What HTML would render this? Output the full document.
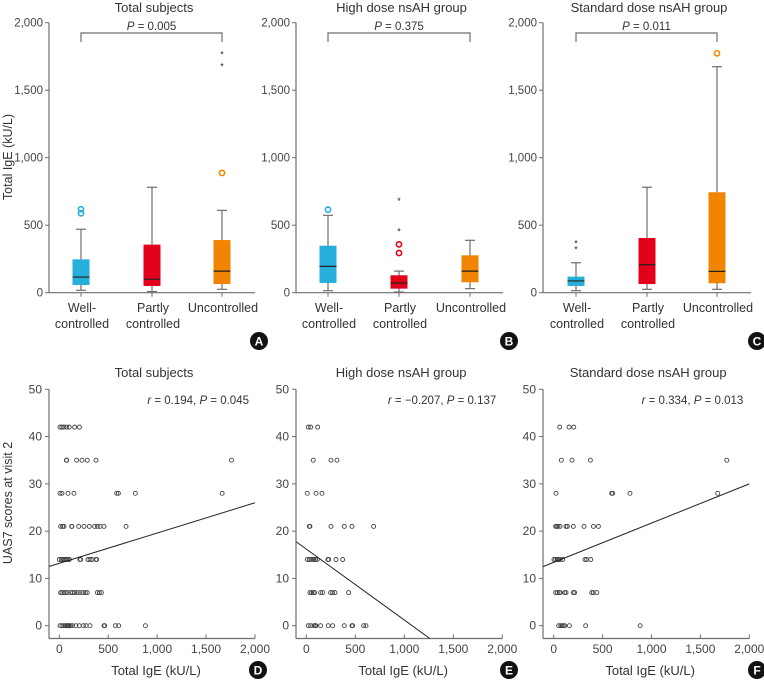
<!DOCTYPE html>
<html><head><meta charset="utf-8"><style>
html,body{margin:0;padding:0;background:#fff;}
svg{display:block;font-family:"Liberation Sans",sans-serif;}
</style></head><body>
<svg id="fig" width="764" height="681" viewBox="0 0 764 681" xmlns="http://www.w3.org/2000/svg"></svg>
<script>
// ---------- Box plot data ----------
const boxCategories = ["Well-controlled","Partly controlled","Uncontrolled"];
const boxColors = ["#27afdc","#e2001a","#f18400"];
const boxTitles = ["Total subjects","High dose nsAH group","Standard dose nsAH group"];
const boxPvalues = ["0.005","0.375","0.011"];
// each: [low whisker, q1, median, q3, high whisker]
const boxA = [[18,57,116,247,470],[8,50,99,356,781],[25,64,160,390,610]];
const boxB = [[15,72,195,348,573],[5,30,72,129,160],[30,77,160,277,388]];
const boxC = [[15,50,87,119,222],[25,64,207,405,781],[25,70,158,744,1674]];
const outCirclesA = [[618,588],[],[887]];
const outStarsA = [[],[],[1773,1684]];
const outCirclesB = [[615],[358,294],[]];
const outStarsB = [[],[687,462],[]];
const outCirclesC = [[],[],[1773]];
const outStarsC = [[373,326],[],[]];
const boxTicks = [0,500,1000,1500,2000];
const boxTickLabels = ["0","500","1,000","1,500","2,000"];

// ---------- Scatter data ----------
const scTitles = ["Total subjects","High dose nsAH group","Standard dose nsAH group"];
const scR = ["0.194","\u22120.207","0.334"];
const scP = ["0.045","0.137","0.013"];
const scIntercept = [13.2,16.2,13.4];
const scSlope = [0.0064,-0.0150,0.0083];
const scYTicks = [0,10,20,30,40,50];
const scXTicks = [0,500,1000,1500,2000];
const scXTickLabels = ["0","500","1,000","1,500","2,000"];
// points grouped by UAS7 level
const scLevels = [42,35,28,21,14,7,0];
const scD = [
 [7,27,48,75,102,157,205],
 [72,75,177,232,286,375,1760],
 [7,27,89,150,587,604,777,1664],
 [14,34,48,126,129,198,252,307,361,389,416,457,682],
 [0,20,34,48,61,75,89,102,211,218,293,314,334,375,382],
 [14,27,48,68,82,116,136,157,184,211,239,266,286,389,409,430],
 [7,27,48,61,75,82,89,95,102,116,136,170,204,246,273,314,457,464,573,607,880]
];
const scE = [
 [20,44,116],
 [71,252,313],
 [10,99,160],
 [31,37,252,388,466,687],
 [10,31,48,65,78,95,112,221,228,303,371],
 [37,54,71,85,146,167,248,269,292,432],
 [20,44,78,92,99,146,224,269,388,466,473,585,609]
];
const scF = [
 [61,157,205],
 [78,188,375,1770],
 [24,593,603,780,1677],
 [20,31,44,65,126,140,201,310,406,457],
 [3,20,37,51,65,92,320,337,378],
 [20,37,58,65,112,126,201,214,389,406,440],
 [51,72,85,99,112,160,327,884]
];

const NS="http://www.w3.org/2000/svg";
const svg=document.getElementById('fig');
function mk(tag,attrs,parent,text){
  const e=document.createElementNS(NS,tag);
  for(const k in attrs) e.setAttribute(k,attrs[k]);
  if(text!==undefined) e.textContent=text;
  (parent||svg).appendChild(e);
  return e;
}
const AX="#6e6e6e", TX="#333";

// ---------- Box panels ----------
const boxPanels=[
 {ax:49, cx:[81,152,222], right:255, data:boxA, oc:outCirclesA, os:outStarsA, badge:[259,341,"A"]},
 {ax:296, cx:[328,399,470], right:503, data:boxB, oc:outCirclesB, os:outStarsB, badge:[509,341,"B"]},
 {ax:543, cx:[576,647,717], right:751, data:boxC, oc:outCirclesC, os:outStarsC, badge:[757,341,"C"]}
];
const by0=292.7, by1=22.7;
function byS(v){return by0-(v/2000)*(by0-by1);}
boxPanels.forEach((p,pi)=>{
  const g=mk('g',{});
  
  
  const t=mk('text',{x:(p.ax+p.right)/2+2,y:12,'text-anchor':'middle','font-size':13,fill:TX},g,boxTitles[pi]);
  
  
  mk('line',{x1:p.ax,y1:by1,x2:p.ax,y2:by0,stroke:AX,'stroke-width':1.2},g);
  mk('line',{x1:p.ax,y1:by0,x2:p.right,y2:by0,stroke:AX,'stroke-width':1.2},g);
  boxTicks.forEach((v,i)=>{
    mk('line',{x1:p.ax-4,y1:byS(v),x2:p.ax,y2:byS(v),stroke:AX},g);
    const tl=mk('text',{x:p.ax-6,y:byS(v)+4,'text-anchor':'end','font-size':11.5,fill:'#444'},g,boxTickLabels[i]);
    
    
  });
  mk('path',{d:`M${p.cx[0]} 42 V33 H${p.cx[2]} V42`,fill:'none',stroke:AX,'stroke-width':1.2},g);
  const pt=mk('text',{x:(p.cx[0]+p.cx[2])/2,y:30,'text-anchor':'middle','font-size':11.5,fill:TX},g);
  mk('tspan',{'font-style':'italic'},pt,'P');
  mk('tspan',{},pt,' = '+boxPvalues[pi]);
  
  
  p.data.forEach((d,ci)=>{
    const x=p.cx[ci], w=17;
    mk('line',{x1:x,y1:byS(d[0]),x2:x,y2:byS(d[4]),stroke:AX,'stroke-width':1.2},g);
    mk('line',{x1:x-5,y1:byS(d[0]),x2:x+5,y2:byS(d[0]),stroke:AX,'stroke-width':1.2},g);
    mk('line',{x1:x-5,y1:byS(d[4]),x2:x+5,y2:byS(d[4]),stroke:AX,'stroke-width':1.2},g);
    const r=mk('rect',{x:x-w/2,y:byS(d[3]),width:w,height:byS(d[1])-byS(d[3]),fill:boxColors[ci]},g);
    
    
    mk('line',{x1:x-w/2,y1:byS(d[2]),x2:x+w/2,y2:byS(d[2]),stroke:'#222','stroke-width':1.2},g);
    mk('line',{x1:x,y1:by0,x2:x,y2:by0+4,stroke:AX},g);
    p.oc[ci].forEach(v=>{ const c=mk('circle',{cx:x,cy:byS(v),r:2.6,fill:'none',stroke:boxColors[ci],'stroke-width':1.6},g);
      
       });
    p.os[ci].forEach(v=>{ const s=mk('text',{x:x,y:byS(v)+4,'text-anchor':'middle','font-size':9,fill:'#222'},g,'*');
      
       });
    const lines = ci===0?["Well-","controlled"]:ci===1?["Partly","controlled"]:["Uncontrolled"];
    lines.forEach((s,li)=>{ const tl=mk('text',{x:x+1,y:312+li*16,'text-anchor':'middle','font-size':12.5,fill:TX},g,s);
      
       });
  });
  const bc=mk('circle',{cx:p.badge[0],cy:p.badge[1],r:9,fill:'#111'},g);
  
  
  mk('text',{x:p.badge[0],y:p.badge[1]+4.5,'text-anchor':'middle','font-size':12,'font-weight':'bold',fill:'#fff'},g,p.badge[2]);
});
const yt=mk('text',{transform:'translate(12,157) rotate(-90)','text-anchor':'middle','font-size':12.5,fill:TX},svg,'Total IgE (kU/L)');



// ---------- Scatter panels ----------
const scPanels=[
 {ax:49, x0:59.3, x2k:255, data:scD, badge:[258,670,"D"]},
 {ax:296, x0:306.3, x2k:502.3, data:scE, badge:[509,670,"E"]},
 {ax:543, x0:553.7, x2k:749.3, data:scF, badge:[757,670,"F"]}
];
const sy0=625.7, sy50=389.3, sBottom=638.5;
function syS(v){return sy0-(v/50)*(sy0-sy50);}
scPanels.forEach((p,pi)=>{
  const g=mk('g',{});
  
  
  const sx=v=>p.x0+(v/2000)*(p.x2k-p.x0);
  const t=mk('text',{x:(p.ax+p.x2k)/2+2,y:377,'text-anchor':'middle','font-size':13,fill:TX},g,scTitles[pi]);
  
  
  mk('line',{x1:p.ax,y1:sy50,x2:p.ax,y2:sBottom,stroke:AX,'stroke-width':1.2},g);
  mk('line',{x1:p.ax,y1:sBottom,x2:p.x2k,y2:sBottom,stroke:AX,'stroke-width':1.2},g);
  scYTicks.forEach(v=>{
    mk('line',{x1:p.ax-4,y1:syS(v),x2:p.ax,y2:syS(v),stroke:AX},g);
    const tl=mk('text',{x:p.ax-7,y:syS(v)+4,'text-anchor':'end','font-size':12,fill:'#444'},g,String(v));
    
    
  });
  scXTicks.forEach((v,i)=>{
    mk('line',{x1:sx(v),y1:sBottom,x2:sx(v),y2:sBottom-4,stroke:AX},g);
    const tl=mk('text',{x:sx(v),y:653,'text-anchor':'middle','font-size':12,fill:'#444'},g,scXTickLabels[i]);
    
    
  });
  const st=mk('text',{x:p.x2k-6,y:404,'text-anchor':'end','font-size':11.5,fill:TX},g);
  mk('tspan',{'font-style':'italic'},st,'r');
  mk('tspan',{},st,' = '+scR[pi]+', ');
  mk('tspan',{'font-style':'italic'},st,'P');
  mk('tspan',{},st,' = '+scP[pi]);
  
  
  p.data.forEach((row,li)=>{
    row.forEach(v=>{
      const c=mk('circle',{cx:sx(v),cy:syS(scLevels[li]),r:2,fill:'none',stroke:'#444','stroke-width':0.9},g);
      
      
    });
  });
  const xmin=(p.ax-p.x0)/(p.x2k-p.x0)*2000;
  const ymin=(sy0-sBottom)/(sy0-sy50)*50;
  let xa=xmin, ya=scIntercept[pi]+scSlope[pi]*xa;
  let xb=2000, yb=scIntercept[pi]+scSlope[pi]*xb;
  if(yb<ymin){ xb=(ymin-scIntercept[pi])/scSlope[pi]; yb=ymin; }
  const ln=mk('line',{x1:sx(xa),y1:syS(ya),x2:sx(xb),y2:syS(yb),stroke:'#222','stroke-width':1},g);
  
  
  const xt=mk('text',{x:(p.ax+p.x2k)/2+4,y:675,'text-anchor':'middle','font-size':13,fill:TX},g,'Total IgE (kU/L)');
  
  
  const bc=mk('circle',{cx:p.badge[0],cy:p.badge[1],r:9,fill:'#111'},g);
  
  
  mk('text',{x:p.badge[0],y:p.badge[1]+4.5,'text-anchor':'middle','font-size':12,'font-weight':'bold',fill:'#fff'},g,p.badge[2]);
});
const yt2=mk('text',{transform:'translate(12,503) rotate(-90)','text-anchor':'middle','font-size':12.5,fill:TX},svg,'UAS7 scores at visit 2');


</script>
</body></html>
